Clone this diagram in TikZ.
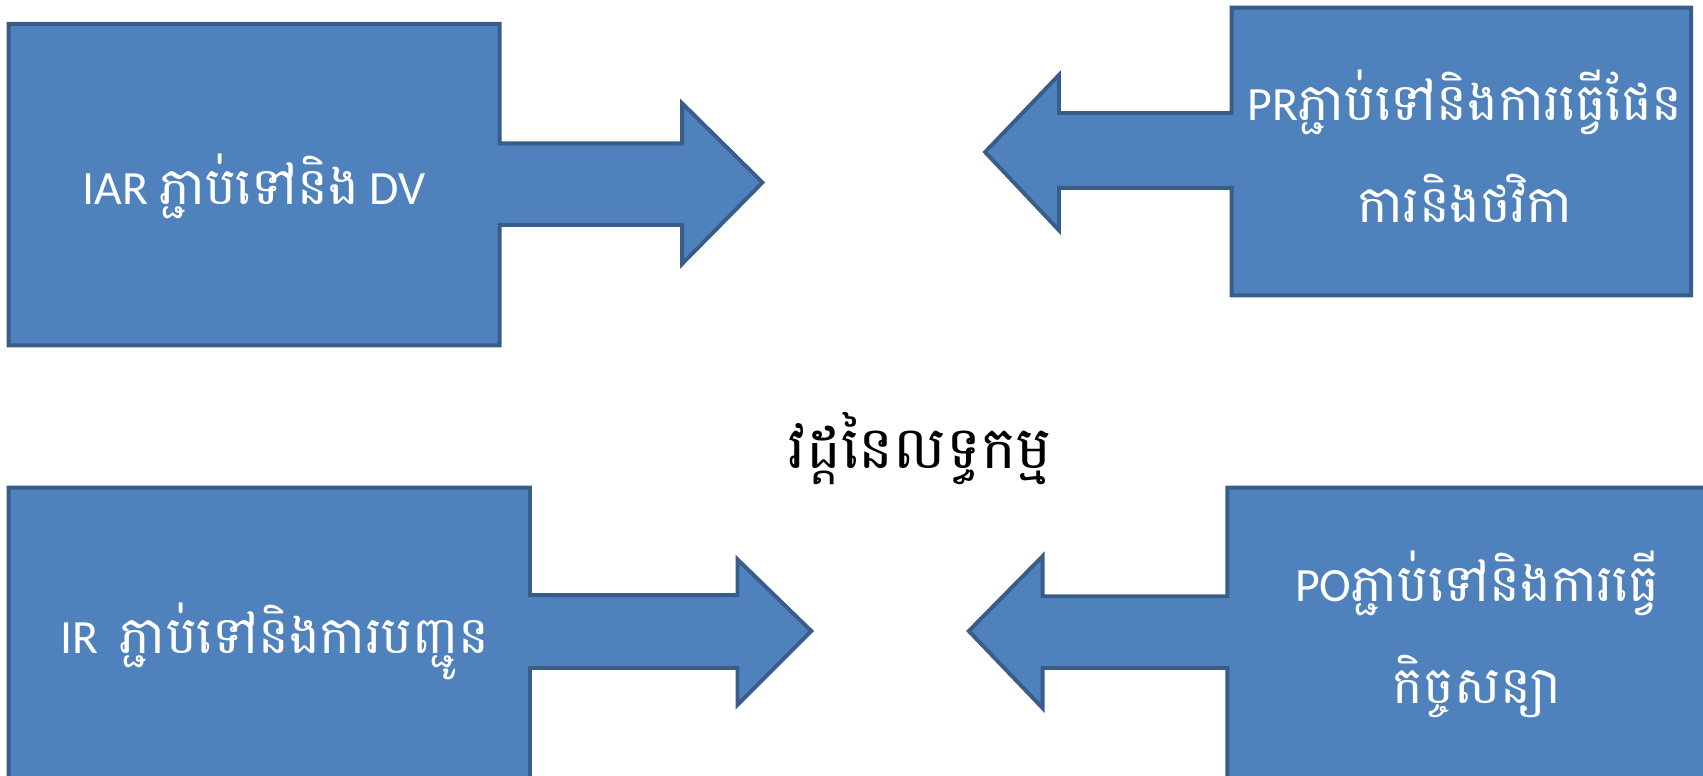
\documentclass[tikz,border=0pt]{standalone}
\usepackage{fontspec}
\setmainfont{Carlito}
\newfontfamily\khmer[Script=Khmer,Scale=1.08]{Battambang}
\definecolor{boxfill}{HTML}{4F81BD}
\definecolor{boxline}{HTML}{385D8A}
\newcommand{\kh}[1]{{\khmer #1}}
\begin{document}
\begin{tikzpicture}[x=0.5pt,y=-0.5pt,
  callout/.style={fill=boxfill,draw=boxline,line width=1.8pt,line join=miter},
  lbl/.style={text=white,font=\fontsize{22}{47}\selectfont,align=center,inner sep=0pt,anchor=base},
  ttl/.style={text=black,font=\fontsize{25}{32}\selectfont,inner sep=0pt,anchor=base}]
\useasboundingbox (0,0) rectangle (1568,714);
% top-left
\draw[callout] (8,22) -- (460,22) -- (460,132) -- (628,132) -- (628,95) -- (702,168) -- (628,243) -- (628,207) -- (460,207) -- (460,318) -- (8,318) -- cycle;
% top-right
\draw[callout] (1134,7) -- (1557,7) -- (1557,272) -- (1134,272) -- (1134,173) -- (975,173) -- (975,212) -- (907,140) -- (975,69) -- (975,104) -- (1134,104) -- cycle;
% bottom-left
\draw[callout] (8,449) -- (488,449) -- (488,548) -- (679,548) -- (679,515) -- (747,581) -- (679,649) -- (679,615) -- (488,615) -- (488,740) -- (8,740) -- cycle;
% bottom-right
\draw[callout] (1130,449) -- (1600,449) -- (1600,740) -- (1130,740) -- (1130,615) -- (960,615) -- (960,652) -- (892,581) -- (960,512) -- (960,549) -- (1130,549) -- cycle;
\node[lbl] (iar) at (234,188) {IAR \kh{ភ្ជាប់ទៅនិង} DV};
\node[lbl] (pr) at (1349,205) {PR\kh{ភ្ជាប់ទៅនិងការធ្វើផែន}\\\kh{ការនិងថវិកា}};
\node[lbl] (ir) at (253,602) {IR\ \ \kh{ភ្ជាប់ទៅនិងការបញ្ជូន}};
\node[lbl] (po) at (1360,648) {PO\kh{ភ្ជាប់ទៅនិងការធ្វើ}\\\kh{កិច្ចសន្យា}};
\node[ttl] (title) at (847,431) {\kh{វដ្តនៃលទ្ធកម្ម}};
\end{tikzpicture}
\end{document}
